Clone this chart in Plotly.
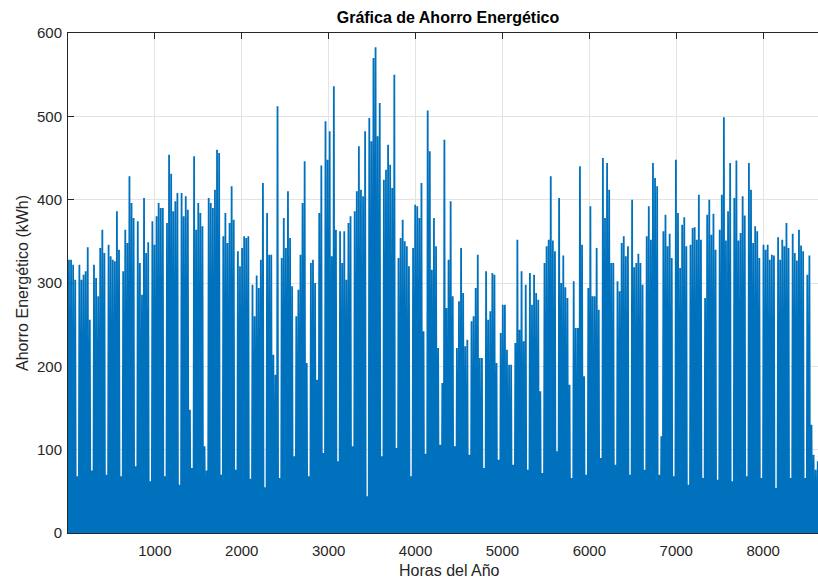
import plotly.graph_objects as go

# Daily peak savings (kWh), one value per day of the year (365 days)
daily_peak = [
    328, 328, 322, 304, 68, 322, 304, 310, 314, 343,
    256, 75, 322, 306, 284, 342, 364, 336, 70, 346,
    332, 328, 326, 386, 340, 68, 314, 364, 348, 428,
    396, 378, 80, 374, 324, 286, 402, 336, 349, 62,
    374, 346, 380, 396, 390, 390, 68, 372, 454, 431,
    386, 398, 408, 58, 408, 380, 404, 388, 148, 78,
    452, 364, 396, 384, 368, 104, 75, 402, 396, 390,
    412, 460, 456, 70, 356, 384, 348, 372, 416, 376,
    76, 338, 320, 342, 356, 354, 356, 65, 298, 260,
    309, 294, 328, 420, 55, 384, 334, 334, 214, 190,
    512, 66, 330, 378, 342, 410, 354, 296, 92, 260,
    292, 334, 396, 446, 204, 68, 324, 328, 300, 184,
    384, 441, 96, 494, 448, 482, 332, 536, 364, 86,
    362, 324, 362, 304, 372, 380, 104, 386, 410, 464,
    412, 404, 482, 44, 498, 470, 570, 583, 476, 516,
    92, 424, 436, 466, 442, 414, 550, 102, 330, 354,
    376, 350, 344, 320, 68, 342, 394, 392, 378, 420,
    242, 95, 507, 458, 316, 378, 344, 222, 106, 180,
    472, 270, 328, 398, 284, 104, 222, 278, 342, 288,
    224, 232, 94, 254, 260, 294, 334, 210, 210, 78,
    314, 256, 266, 312, 310, 204, 88, 240, 274, 274,
    220, 202, 202, 82, 228, 352, 244, 314, 230, 298,
    76, 312, 274, 310, 288, 280, 170, 72, 324, 344,
    352, 428, 351, 338, 98, 402, 300, 333, 295, 282,
    178, 66, 302, 246, 246, 440, 346, 188, 70, 294,
    392, 284, 284, 342, 268, 90, 450, 378, 444, 412,
    324, 324, 82, 302, 290, 348, 356, 332, 344, 70,
    400, 319, 324, 335, 324, 298, 76, 356, 392, 352,
    444, 426, 416, 70, 116, 362, 382, 344, 359, 330,
    68, 448, 384, 318, 370, 379, 344, 58, 346, 366,
    367, 352, 406, 352, 66, 282, 382, 400, 358, 383,
    340, 64, 364, 406, 499, 351, 386, 444, 62, 402,
    447, 351, 360, 404, 381, 68, 444, 412, 348, 368,
    362, 330, 66, 346, 340, 346, 328, 334, 333, 54,
    355, 328, 352, 344, 372, 342, 66, 359, 336, 327,
    364, 345, 338, 66, 310, 333, 130, 94, 76, 86,
    80, 70, 75, 70, 60,
]
night_value = 0          # overnight savings (kWh)
morning_hour = 5         # hour of day when savings start rising
peak_hour = 12           # hour of the daily peak
evening_hour = 19        # hour of day when savings return to night level
hours_per_day = 24

x_ticks = [1000, 2000, 3000, 4000, 5000, 6000, 7000, 8000]
y_ticks = [0, 100, 200, 300, 400, 500, 600]

hours, values = [], []
for d, peak in enumerate(daily_peak):
    base = d * hours_per_day
    hours += [base + morning_hour, base + peak_hour, base + evening_hour]
    values += [night_value, peak, night_value]

fig = go.Figure()
fig.add_trace(go.Scatter(
    x=hours, y=values, mode="lines",
    line=dict(color="#0072BD", width=1.8, simplify=False),
    hoverinfo="skip", showlegend=False,
))

axis_col = "#262626"
grid_col = "#e3e3e3"
font_family = "Liberation Sans, Arial, Helvetica, sans-serif"

fig.update_layout(
    width=818, height=580,
    margin=dict(l=68, r=0, t=33, b=47),
    paper_bgcolor="white", plot_bgcolor="white",
    font=dict(family=font_family, size=15, color=axis_col),
    title=dict(
        text="<b>Gráfica de Ahorro Energético</b>",
        x=448 / 818, xref="container", xanchor="center",
        y=1 - 17 / 580, yref="container", yanchor="middle",
        font=dict(family=font_family, size=16, color="black"),
    ),
    xaxis=dict(
        range=[1, 8631], tickvals=x_ticks, ticktext=[str(v) for v in x_ticks],
        showgrid=True, gridcolor=grid_col, gridwidth=1,
        zeroline=False, showline=True, linecolor=axis_col, linewidth=1,
        mirror="ticks", ticks="inside", ticklen=6, tickcolor=axis_col,
        tickfont=dict(size=15, color=axis_col), layer="below traces",
        ticklabelstandoff=4,
    ),
    yaxis=dict(
        range=[0, 600], tickvals=y_ticks, ticktext=[str(v) for v in y_ticks],
        showgrid=True, gridcolor=grid_col, gridwidth=1,
        zeroline=False, showline=True, linecolor=axis_col, linewidth=1,
        ticks="inside", ticklen=6, tickcolor=axis_col,
        tickfont=dict(size=15, color=axis_col), layer="below traces",
        ticklabelstandoff=2,
    ),
    annotations=[
        dict(text="Horas del Año", xref="paper", yref="paper",
             x=(449 - 68) / 750, y=-(570 - 533) / 500, xanchor="center", yanchor="middle",
             showarrow=False, font=dict(family=font_family, size=16, color=axis_col)),
        dict(text="Ahorro Energético (kWh)", xref="paper", yref="paper",
             x=-(68 - 22) / 750, y=0.5, xanchor="center", yanchor="middle", textangle=-90,
             showarrow=False, font=dict(family=font_family, size=16, color=axis_col)),
    ],
)

fig.write_html("out.html")
